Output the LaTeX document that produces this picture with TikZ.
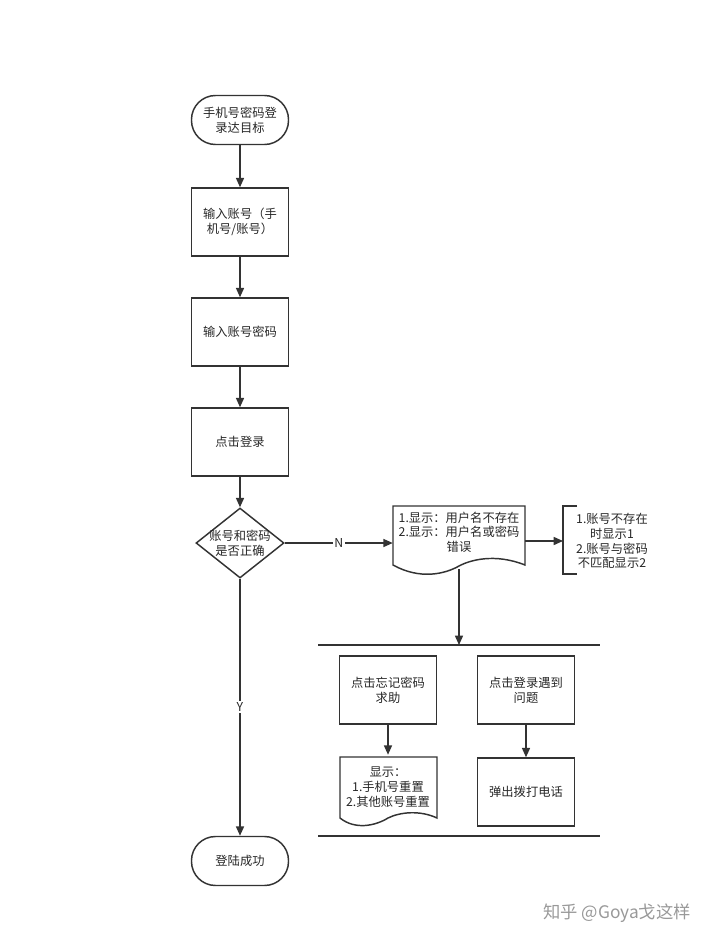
\documentclass[tikz,border=0pt]{standalone}
\usepackage{fontspec}
\setmainfont{Noto Sans CJK SC}
\usetikzlibrary{shapes.geometric,arrows.meta}
\begin{document}
\begin{tikzpicture}[x=0.75pt,y=-0.75pt,
  every node/.style={font=\fontsize{9.2}{11}\selectfont, align=center, text=black!85},
  box/.style={draw=black!80, line width=1.1pt, minimum width=72.75pt, minimum height=51pt, inner sep=1pt},
  term/.style={draw=black!80, line width=1.1pt, rounded corners=18pt, minimum width=72.75pt, minimum height=36.75pt},
  dec/.style={draw=black!80, line width=1.1pt, diamond, minimum width=66pt, minimum height=52.5pt, inner sep=-3.5pt, aspect=1.25},
  doc/.style={minimum height=48pt, inner sep=1pt},
  wav/.style={draw=black!80, line width=1.1pt},
  arr/.style={draw=black!80, line width=1.1pt, -{Triangle[length=7pt,width=6pt]}},
  ln/.style={draw=black!80, line width=1.1pt}]
\useasboundingbox (0,0) rectangle (720,946);
\node[term] (s) at (240,120) {手机号密码登\\录达目标};
\node[box] (b1) at (240,222) {输入账号（手\\机号/账号）};
\node[box] (b2) at (240,332) {输入账号密码};
\node[box] (b3) at (240,442) {点击登录};
\node[dec] (d) at (240,543) {账号和密码\\是否正确};
\node[doc, minimum width=99pt] (e) at (459,532) {1.显示：用户名不存在\\2.显示：用户名或密码\\错误};
\draw[wav] (393,506) -- (525,506) -- (525,565) .. controls (495,553) and (470,560) .. (459,566) .. controls (445,574) and (420,580) .. (393,565) -- cycle;
\node (n) at (612,541) {1.账号不存在\\时显示1\\2.账号与密码\\不匹配显示2};
\draw[ln] (577,506) -- (563,506) -- (563,574) -- (577,574);
\coordinate (nl) at (563,541);
\draw[arr] (e.east |- 0,541) -- (nl);
\draw[arr] (d.east) -- node[fill=white,inner sep=1pt]{N} (e.west |- d.east);
\coordinate (t1) at (459,645);
\draw[arr] (459,569) -- (t1);
\draw[ln] (318,645) -- (600,645);
\draw[ln] (318,836) -- (600,836);
\node[box] (f1) at (388,690) {点击忘记密码\\求助};
\node[box] (f2) at (526,690) {点击登录遇到\\问题};
\node[doc, minimum width=72pt] (g1) at (388,787) {显示：\\1.手机号重置\\2.其他账号重置};
\draw[wav] (340,757) -- (437,757) -- (437,818) .. controls (420,810) and (400,812) .. (388,818) .. controls (375,826) and (355,830) .. (340,818) -- cycle;
\node[box] (g2) at (526,792) {弹出拨打电话};
\draw[arr] (f1) -- (g1.north);
\draw[arr] (f2) -- (g2);
\node[term] (z) at (240,861) {登陆成功};
\draw[arr] (s) -- (b1);
\draw[arr] (b1) -- (b2);
\draw[arr] (b2) -- (b3);
\draw[arr] (b3) -- (d);
\draw[arr] (d) -- node[fill=white,inner sep=1pt]{Y} (z);
\node[text=black!40, font=\fontsize{13}{15}\selectfont] (w) at (617,913) {知乎 @Goya戈这样};
\end{tikzpicture}
\end{document}
